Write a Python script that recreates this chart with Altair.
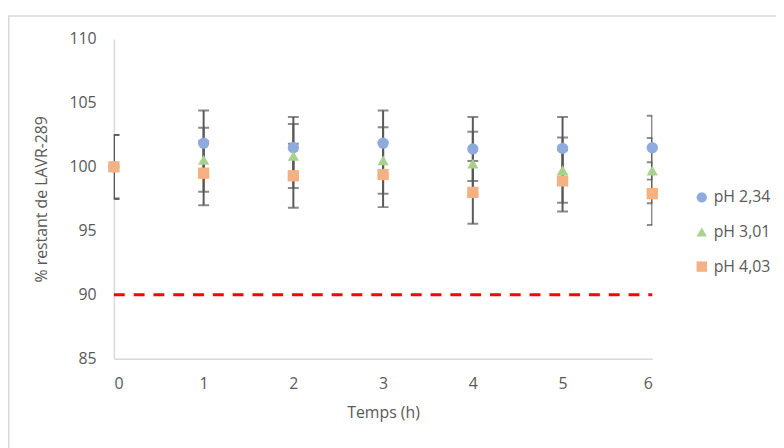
import altair as alt
import pandas as pd

hours = [0, 1, 2, 3, 4, 5, 6]
series = ["pH 2,34", "pH 3,01", "pH 4,03"]
ph234 = [100, 101.85, 101.5, 101.85, 101.4, 101.45, 101.5]
ph301 = [100, 100.55, 100.85, 100.5, 100.25, 99.75, 99.7]
ph403 = [100, 99.5, 99.3, 99.4, 98.0, 98.9, 97.9]
err234 = [2.5, 2.55, 2.4, 2.55, 2.5, 2.45, 2.5]
err301 = [2.5, 2.5, 2.5, 2.6, 2.5, 2.55, 2.55]
err403 = [2.5, 2.5, 2.5, 2.55, 2.45, 2.4, 2.45]
limit = [90]
y_ticks = [85, 90, 95, 100, 105, 110]

colors = ["#8FAADC", "#A9D18E", "#F4B183"]
shapes = ["circle", "triangle-up", "square"]
FONT = "Open Sans"
TXT = "#595959"

rows = []
for k, (name, vals, errs) in enumerate(zip(series, [ph234, ph301, ph403], [err234, err301, err403])):
    for t, v, e in zip(hours, vals, errs):
        rows.append({"t": t, "s": name, "v": v, "lo": v - e, "hi": v + e, "o": k})
df = pd.DataFrame(rows)

xs = alt.Scale(domain=[0, 6], nice=False)
ys = alt.Scale(domain=[85, 110], nice=False)

x_enc = alt.X("t:Q", scale=xs, axis=alt.Axis(values=hours, title="Temps (h)", format="d",
                                             tickSize=0, labelPadding=17, titlePadding=13,
                                             grid=False, domainColor="#D9D9D9", domainWidth=1.5))
y_axis = alt.Axis(values=y_ticks, title="% restant de LAVR-289", tickSize=0, labelPadding=18,
                  titlePadding=20, grid=False, domainColor="#D9D9D9", domainWidth=1.5)

base = alt.Chart(df)

bars = base.mark_rule(color="#595959", strokeWidth=2, clip=True).encode(
    x=x_enc, y=alt.Y("lo:Q", scale=ys, axis=y_axis), y2="hi:Q")
cap_lo = base.mark_tick(color="#595959", thickness=2, size=11, orient="horizontal", clip=True).encode(
    x="t:Q", y="lo:Q")
cap_hi = base.mark_tick(color="#595959", thickness=2, size=11, orient="horizontal", clip=True).encode(
    x="t:Q", y="hi:Q")

points = base.mark_point(filled=True, opacity=1, size=130, strokeWidth=0).encode(
    x="t:Q",
    y="v:Q",
    color=alt.Color("s:N", scale=alt.Scale(domain=series, range=colors),
                    legend=alt.Legend(title=None, orient="none", legendX=586, legendY=152,
                                      labelFontSize=16, labelColor=TXT, labelFont=FONT,
                                      symbolSize=110, rowPadding=19, padding=0,
                                      symbolStrokeWidth=0)),
    shape=alt.Shape("s:N", scale=alt.Scale(domain=series, range=shapes)),
    order=alt.Order("o:Q"),
)

ref = alt.Chart(pd.DataFrame({"y": limit, "x0": [0], "x1": [6]})).mark_rule(
    color="#FF0000", strokeWidth=3, strokeDash=[11, 9]).encode(
    x="x0:Q", x2="x1:Q", y="y:Q")

frame = alt.Chart(pd.DataFrame({"a": [0]})).mark_rect(
    fillOpacity=0, stroke="#D9D9D9", strokeWidth=1.5, clip=False).encode(
    x=alt.value(-106.25), x2=alt.value(680), y=alt.value(-23.25), y2=alt.value(420))

chart = alt.layer(frame, bars, cap_lo, cap_hi, ref, points).properties(
    width=544, height=323,
    autosize=alt.AutoSizeParams(type="none"),
    padding={"left": 107, "top": 29, "right": 125, "bottom": 88},
).configure_view(stroke=None).configure_axis(
    labelFont=FONT, titleFont=FONT, labelFontSize=16, titleFontSize=16,
    labelColor=TXT, titleColor=TXT, titleFontWeight="normal",
)

chart.save("out.html", embed_options={"renderer": "svg", "actions": False})
